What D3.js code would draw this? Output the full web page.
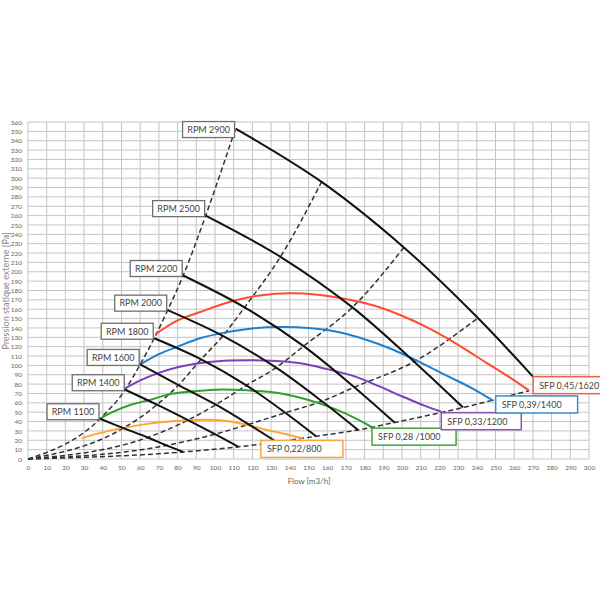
<!DOCTYPE html>
<html>
<head>
<meta charset="utf-8">
<script src="https://cdn.jsdelivr.net/npm/d3@7"></script>
<style>
  html, body { margin: 0; padding: 0; background: #fff; }
  svg { display: block; font-family: Lato, "Noto Sans", sans-serif; }
</style>
</head>
<body>
<div id="chart"></div>
<script>
// RPM fan curves: each curve is read at its start, its crossings with the
// three middle dashed system curves and its end
const rpmLabels = ["RPM 1100", "RPM 1400", "RPM 1600", "RPM 1800", "RPM 2000", "RPM 2200", "RPM 2500", "RPM 2900"];
const rpmFlow = [
  [38.5, 51, 64, 74, 83],
  [52, 69, 85.5, 100, 112.5],
  [60, 80.5, 100.5, 118, 133],
  [67.5, 92.6, 116.8, 137.6, 154],
  [74.7, 104.2, 132.7, 157.2, 176.5],
  [83, 115.8, 147.4, 174.5, 196],
  [95, 135, 173.5, 206.5, 232.7],
  [111, 157, 201, 240.6, 270]
];
const rpmPressure = [
  [43, 33, 23, 14.5, 7.5],
  [74, 58, 41.5, 26.5, 13],
  [101, 79, 58, 37, 18],
  [129, 106.5, 78.7, 49.4, 24.3],
  [159, 131.5, 97.6, 61.7, 31],
  [196, 162, 120.6, 76.7, 39],
  [260, 216, 162, 104, 55],
  [353, 296, 226, 150.6, 88]
];

// SFP curves
const sfpLabels = ["SFP 0,22/800", "SFP 0,28 /1000", "SFP 0,33/1200", "SFP 0,39/1400", "SFP 0,45/1620"];
const sfpFlow = [
  [28.7, 35, 42, 52, 62, 72, 86, 97, 108, 118, 128, 138, 147],
  [38.5, 45, 55, 66, 75, 87, 100, 110, 120, 130, 140, 150, 160, 170, 178, 184],
  [51.5, 60, 70, 80, 92, 105, 118, 130, 145, 160, 175, 188, 200, 212, 221],
  [60, 70, 80, 92, 105, 120, 135, 150, 165, 180, 195, 210, 225, 238, 249],
  [68, 80, 92, 110, 125, 140, 155, 170, 185, 200, 215, 230, 245, 257, 268]
];
const sfpPressure = [
  [22, 26, 29.5, 33.5, 37, 39.5, 41.5, 41.8, 40, 36, 31, 26.5, 22],
  [43, 50, 58, 63.5, 69, 72, 74, 74, 73, 71.5, 68, 63, 56.5, 48.5, 40.5, 34],
  [75, 84, 92, 98, 102.5, 105, 105.5, 105, 102.5, 96, 88, 77.5, 67, 57, 50.5],
  [101, 112, 120, 129, 135, 139.5, 141, 140, 136, 128, 117, 103, 88, 75, 62],
  [133, 148, 157, 169, 175, 177, 175.5, 171, 164, 153, 139, 122, 103, 88, 73]
];

// the lowest dashed system curve runs on to the end of the SFP 0,45 curve
const lowCurveEnd = [268, 73];

// axis ticks
const xTicks = d3.range(0, 301, 10);
const yTicks = d3.range(0, 361, 10);

// STYLE / LAYOUT
const sfpColors = ["#ffa533", "#2ea02c", "#7d3fb8", "#1f7fcf", "#ff4b2e"];
const sfpBoxColors = ["#f5a844", "#3aa83a", "#8e55b8", "#3a8ccf", "#f0604a"];
const sfpBoxShift = [[-42, 2], [0, 1], [0, 1], [2, -5], [4, -14]];
const sfpBoxWidth = [82, 84, 80, 82, 80];

const W = 600, H = 600;
const M = { left: 28, right: 11, top: 122, bottom: 141 };

const svg = d3.select("#chart")
  .append("svg")
  .attr("width", W)
  .attr("height", H);

const x = d3.scaleLinear().domain([0, 300]).range([M.left, W - M.right]);
const y = d3.scaleLinear().domain([0, 360]).range([H - M.bottom, M.top]);

// GRID
svg.append("g")
  .selectAll("line")
  .data(xTicks)
  .join("line")
  .attr("x1", d => x(d)).attr("x2", d => x(d))
  .attr("y1", y(0)).attr("y2", y(360))
  .style("stroke", "#c4c4c4")
  .style("stroke-width", 1);

svg.append("g")
  .selectAll("line")
  .data(yTicks)
  .join("line")
  .attr("x1", x(0)).attr("x2", x(300))
  .attr("y1", d => y(d)).attr("y2", d => y(d))
  .style("stroke", "#c4c4c4")
  .style("stroke-width", 1);

// AXES
const xAxis = svg.append("g")
  .attr("transform", `translate(0,${y(0)})`)
  .call(d3.axisBottom(x).tickValues(xTicks).tickSize(0).tickPadding(6));
const yAxis = svg.append("g")
  .attr("transform", `translate(${x(0)},0)`)
  .call(d3.axisLeft(y).tickValues(yTicks).tickSize(0).tickPadding(6));

[xAxis, yAxis].forEach(a => {
  a.select(".domain").remove();
  a.selectAll("text")
    .style("font-size", "6.5px")
    .style("font-family", "Lato, 'Noto Sans', sans-serif")
    .style("fill", "#666");
});

// AXIS TITLES
svg.append("text")
  .attr("x", 309)
  .attr("y", 484)
  .attr("text-anchor", "middle")
  .text("Flow [m3/h]")
  .style("font-size", "8px")
  .style("fill", "#666");

svg.append("text")
  .attr("transform", `translate(8.5,${291}) rotate(-90)`)
  .attr("text-anchor", "middle")
  .text("Pression statique externe [Pa]")
  .style("font-size", "9px")
  .style("fill", "#888");

// DASHED SYSTEM CURVES (through the matching points of every RPM curve)
const dashLine = d3.line()
  .x(d => x(d[0]))
  .y(d => y(d[1]))
  .curve(d3.curveMonotoneX);

const systemCurves = d3.range(5).map(i => {
  const pts = [[0, 0]].concat(rpmFlow.map((f, r) => [f[i], rpmPressure[r][i]]));
  if (i === 4) {
    pts.pop();
    pts.push(lowCurveEnd);
  }
  return pts;
});

svg.append("g")
  .selectAll("path")
  .data(systemCurves)
  .join("path")
  .attr("d", dashLine)
  .style("fill", "none")
  .style("stroke", "#333")
  .style("stroke-width", 1.5)
  .style("stroke-dasharray", "5,3");

// SFP CURVES
const curveLine = d3.line()
  .x(d => x(d[0]))
  .y(d => y(d[1]))
  .curve(d3.curveCatmullRom.alpha(0.5));

const sfpData = sfpFlow.map((f, i) => f.map((v, j) => [v, sfpPressure[i][j]]));

svg.append("g")
  .selectAll("path")
  .data(sfpData)
  .join("path")
  .attr("d", curveLine)
  .style("fill", "none")
  .style("stroke", (d, i) => sfpColors[i])
  .style("stroke-width", 2);

// RPM CURVES
const rpmData = rpmFlow.map((f, i) => f.map((v, j) => [v, rpmPressure[i][j]]));

svg.append("g")
  .selectAll("path")
  .data(rpmData)
  .join("path")
  .attr("d", curveLine)
  .style("fill", "none")
  .style("stroke", "#111")
  .style("stroke-width", 2);

// RPM LABEL BOXES (left of each curve start)
const rpmBoxW = 52, rpmBoxH = 16;
const rpmBoxes = svg.append("g")
  .selectAll("g")
  .data(rpmLabels)
  .join("g")
  .attr("transform", (d, i) => {
    const sx = x(rpmFlow[i][0]);
    const sy = y(rpmPressure[i][0]);
    const top = i === rpmLabels.length - 1 ? sy - 7 : sy - rpmBoxH + 1;
    return `translate(${sx - rpmBoxW - 1},${top})`;
  });

rpmBoxes.append("rect")
  .attr("width", rpmBoxW)
  .attr("height", rpmBoxH)
  .style("fill", "#fff")
  .style("stroke", "#6f6f6f")
  .style("stroke-width", 1.3);

rpmBoxes.append("text")
  .attr("x", rpmBoxW / 2)
  .attr("y", rpmBoxH / 2 + 3.3)
  .attr("text-anchor", "middle")
  .text(d => d)
  .style("font-size", "9px")
  .style("fill", "#444");

// SFP LABEL BOXES (at each curve end)
const sfpBoxH = 17;
const sfpBoxes = svg.append("g")
  .selectAll("g")
  .data(sfpLabels)
  .join("g")
  .attr("transform", (d, i) => {
    const last = sfpFlow[i].length - 1;
    const ex = x(sfpFlow[i][last]);
    const ey = y(sfpPressure[i][last]);
    return `translate(${ex + sfpBoxShift[i][0]},${ey + sfpBoxShift[i][1]})`;
  });

sfpBoxes.append("rect")
  .attr("width", (d, i) => sfpBoxWidth[i])
  .attr("height", sfpBoxH)
  .style("fill", "#fff")
  .style("stroke", (d, i) => sfpBoxColors[i])
  .style("stroke-width", 1.5);

sfpBoxes.append("text")
  .attr("x", 6)
  .attr("y", 12)
  .text(d => d)
  .style("font-size", "9px")
  .style("fill", "#444");
</script>
</body>
</html>
